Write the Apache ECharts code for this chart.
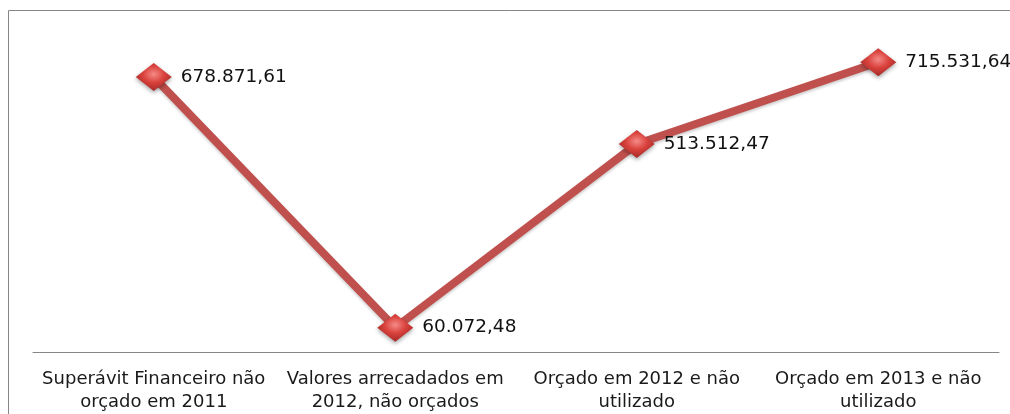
<!DOCTYPE html>
<html>
<head>
<meta charset="utf-8">
<script src="https://cdn.jsdelivr.net/npm/echarts@6/dist/echarts.min.js"></script>
<style>
  html,body{margin:0;padding:0;background:#fff}
  #chart{width:1010px;height:414px}
</style>
</head>
<body>
<div id="chart"></div>
<script>
// categorias e valores
var categories = [
  'Superávit Financeiro não\norçado em 2011',
  'Valores arrecadados em\n2012, não orçados',
  'Orçado em 2012 e não\nutilizado',
  'Orçado em 2013 e não\nutilizado'
]
var values = [678871.61, 60072.48, 513512.47, 715531.64]

function fmtBR(v){
  var parts = v.toFixed(2).split('.')
  var intPart = parts[0].replace(/\B(?=(\d{3})+(?!\d))/g, '.')
  return intPart + ',' + parts[1]
}

var chart = echarts.init(document.getElementById('chart'))

var option = {
  animation: false,
  backgroundColor: '#fff',
  // borda da area do grafico (so esquerda e topo aparecem no recorte)
  graphic: [{
    type: 'polyline',
    shape: { points: [[8.5, 600], [8.5, 10.5], [1200, 10.5]] },
    style: { fill: null, stroke: '#868686', lineWidth: 1 },
    z: -1
  }],
  grid: { left: 33, right: 11, top: 28, bottom: 60 },
  xAxis: {
    type: 'category',
    boundaryGap: true,
    data: categories,
    axisLine: { show: true, lineStyle: { color: '#868686', width: 1 } },
    axisTick: { show: false },
    axisLabel: {
      interval: 0,
      margin: 16,
      color: '#1a1a1a',
      fontFamily: 'DejaVu Sans',
      fontSize: 18,
      lineHeight: 23
    }
  },
  yAxis: {
    type: 'value',
    min: 0,
    max: 800000,
    show: false,
    splitLine: { show: false }
  },
  series: [{
    type: 'line',
    data: values,
    symbol: 'diamond',
    symbolSize: [36, 28],
    lineStyle: {
      color: '#c0504d',
      width: 8,
      shadowColor: 'rgba(0,0,0,0.2)',
      shadowBlur: 3,
      shadowOffsetY: 2
    },
    itemStyle: {
      color: new echarts.graphic.RadialGradient(0.5, 0.4, 0.6, [
        { offset: 0, color: '#f58a86' },
        { offset: 0.5, color: '#d9413c' },
        { offset: 1, color: '#a32a27' }
      ]),
      borderWidth: 0,
      shadowColor: 'rgba(0,0,0,0.35)',
      shadowBlur: 4,
      shadowOffsetY: 2
    },
    label: {
      show: true,
      position: 'right',
      distance: 9,
      color: '#111',
      fontFamily: 'DejaVu Sans',
      fontSize: 18.5,
      formatter: function(p){ return fmtBR(p.value) }
    },
    z: 3
  }]
}

chart.setOption(option)
</script>
</body>
</html>
